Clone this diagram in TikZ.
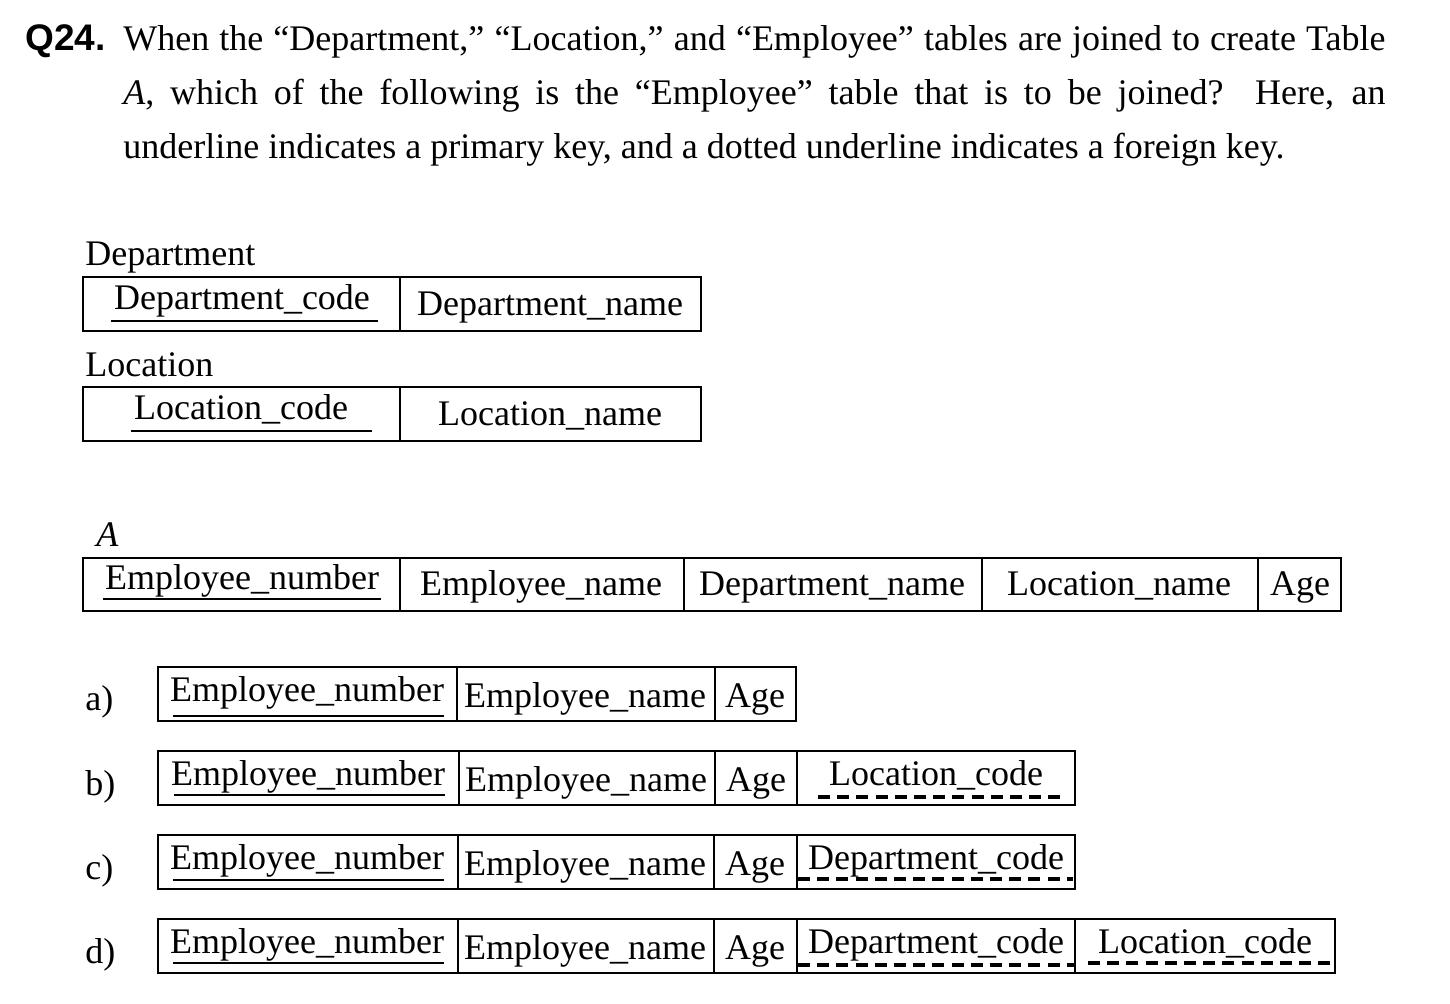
\documentclass[tikz,border=0pt]{standalone}
\usepackage{fontspec}
\setmainfont{Liberation Serif}
\setsansfont{Liberation Sans}
\begin{document}
\begin{tikzpicture}[x=0.5pt,y=-0.5pt,
  frame/.style={draw, line width=0.9pt},
  rule/.style={line width=0.9pt},
  hedge/.style={line width=1.3pt},
  txt/.style={anchor=base, inner sep=0pt, font=\fontsize{18pt}{22pt}\selectfont},
  lbl/.style={anchor=base west, inner sep=0pt, font=\fontsize{18pt}{22pt}\selectfont},
  pk/.style={line width=1.4pt},
  fk/.style={line width=1.6pt, dash pattern=on 6pt off 3.6pt}]
\useasboundingbox (0,0) rectangle (1450,1004);

% question stem
\node[anchor=base west, inner sep=0pt, font=\fontsize{18.5pt}{20pt}\sffamily\bfseries] (qnum) at (25,51) {Q24.};
\node[anchor=base west, inner sep=0pt, text width=631pt, align=justify,
      font=\fontsize{18pt}{27pt}\selectfont] (stem) at (123,51)
  {When the “Department,” “Location,” and “Employee” tables are joined to create Table\linebreak
   \textit{A}, which of the following is the “Employee” table that is to be joined?\ \ Here, an\linebreak
   underline indicates a primary key, and a dotted underline indicates a foreign key.};

% Department
\node[lbl] (deplbl) at (85,266) {Department};
\path[frame] (83,277) rectangle (701,331);
\draw[rule] (400,277) -- (400,331);
\node[txt] (depcode) at (242,310) {Department\_code};
\node[txt] (depname) at (550,316) {Department\_name};
\draw[pk] (111,321) -- (378,321);

% Location
\node[lbl] (loclbl) at (85,377) {Location};
\path[frame] (83,387) rectangle (701,441);
\draw[rule] (400,387) -- (400,441);
\node[txt] (loccode) at (241,420) {Location\_code};
\node[txt] (locname) at (550,426) {Location\_name};
\draw[pk] (131,431) -- (372,431);

% Table A
\node[lbl] (albl) at (96,547) {\textit{A}};
\path[frame] (83,558) rectangle (1341,611);
\foreach \x in {400,684,982,1258} \draw[rule] (\x,558) -- (\x,611);
\node[txt] (aen) at (242,590) {Employee\_number};
\node[txt] (aename) at (541,596) {Employee\_name};
\node[txt] (adname) at (832,596) {Department\_name};
\node[txt] (alname) at (1119,596) {Location\_name};
\node[txt] (aage) at (1300,596) {Age};
\draw[pk] (103,599) -- (381,599);

% choice a)
\node[lbl] (la) at (85,711) {a)};
\path[frame] (158,667) rectangle (796,721);
\draw[hedge] (158,667) -- (796,667) (158,721) -- (796,721);
\foreach \x in {457,715} \draw[rule] (\x,667) -- (\x,721);
\node[txt] (aen1) at (307,701) {Employee\_number};
\node[txt] (aname1) at (585,707) {Employee\_name};
\node[txt] (aage1) at (755,707) {Age};
\draw[pk] (173,716) -- (444,716);

% choice b)
\node[lbl] (lb) at (85,795) {b)};
\path[frame] (158,751) rectangle (1075,805);
\draw[hedge] (158,751) -- (1075,751) (158,805) -- (1075,805);
\foreach \x in {459,715,797} \draw[rule] (\x,751) -- (\x,805);
\node[txt] (ben) at (308,785) {Employee\_number};
\node[txt] (bname) at (586,791) {Employee\_name};
\node[txt] (bage) at (756,791) {Age};
\node[txt] (bloc) at (936,785) {Location\_code};
\draw[pk] (174,795) -- (445,795);
\draw[fk] (818,797) -- (1060,797);

% choice c)
\node[lbl] (lc) at (85,879) {c)};
\path[frame] (158,835) rectangle (1075,889);
\draw[hedge] (158,835) -- (1075,835) (158,889) -- (1075,889);
\foreach \x in {458,714,797} \draw[rule] (\x,835) -- (\x,889);
\node[txt] (cen) at (307,869) {Employee\_number};
\node[txt] (cname) at (585,875) {Employee\_name};
\node[txt] (cage) at (755,875) {Age};
\node[txt] (cdep) at (936,869) {Department\_code};
\draw[pk] (173,880) -- (444,880);
\draw[fk] (798,879) -- (1073,879);

% choice d)
\node[lbl] (ld) at (85,963) {d)};
\path[frame] (158,919) rectangle (1335,973);
\draw[hedge] (158,919) -- (1335,919) (158,973) -- (1335,973);
\foreach \x in {458,714,797,1075} \draw[rule] (\x,919) -- (\x,973);
\node[txt] (den) at (307,953) {Employee\_number};
\node[txt] (dname) at (585,959) {Employee\_name};
\node[txt] (dage) at (755,959) {Age};
\node[txt] (ddep) at (936,953) {Department\_code};
\node[txt] (dloc) at (1205,953) {Location\_code};
\draw[pk] (173,963) -- (444,963);
\draw[fk] (798,965) -- (1075,965);
\draw[fk] (1088,963) -- (1335,963);
\end{tikzpicture}
\end{document}
